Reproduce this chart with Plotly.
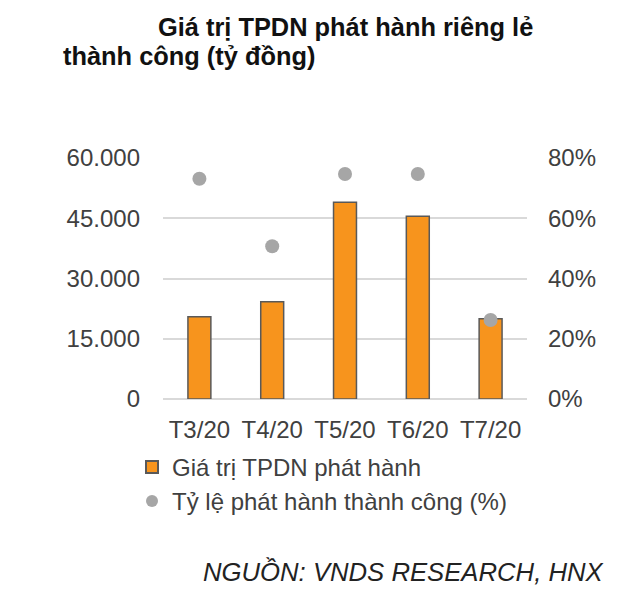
import plotly.graph_objects as go

categories = ["T3/20", "T4/20", "T5/20", "T6/20", "T7/20"]
issued_value = [20500, 24200, 49000, 45500, 20000]
success_rate = [73.1, 50.7, 74.7, 74.7, 26.2]
left_ticks = [0, 15000, 30000, 45000, 60000]
left_labels = ["0", "15.000", "30.000", "45.000", "60.000"]
right_ticks = [0, 20, 40, 60, 80]
right_labels = ["0%", "20%", "40%", "60%", "80%"]

FONT = "Arial, Liberation Sans, sans-serif"
TICK = dict(size=24, color="#404040", family=FONT)

fig = go.Figure()
fig.add_trace(go.Bar(
    x=categories, y=issued_value, name="Giá trị TPDN phát hành",
    marker=dict(color="#F7941D", line=dict(color="#595959", width=1.5)),
    yaxis="y",
))
fig.add_trace(go.Scatter(
    x=categories, y=success_rate, name="Tỷ lệ phát hành thành công (%)",
    mode="markers", marker=dict(color="#A6A6A6", size=14),
    yaxis="y2",
))

fig.update_layout(
    width=630, height=593,
    margin=dict(l=163, r=103, t=158, b=194),
    paper_bgcolor="white", plot_bgcolor="white",
    bargap=0.685,
    font=dict(family=FONT, size=24, color="#404040"),
    xaxis=dict(showgrid=False, showline=False, ticks="", ticklabelstandoff=14, tickfont=TICK),
    yaxis=dict(range=[0, 60000], tickmode="array", tickvals=left_ticks, ticktext=left_labels,
               showgrid=True, gridcolor="#D9D9D9", gridwidth=1.5,
               zeroline=True, zerolinecolor="#D9D9D9", zerolinewidth=1.5,
               ticks="", ticklabelstandoff=22, tickfont=TICK),
    yaxis2=dict(range=[0, 80], tickmode="array", tickvals=right_ticks, ticktext=right_labels,
                overlaying="y", side="right", showgrid=False, zeroline=False,
                ticks="", ticklabelstandoff=20, tickfont=TICK),
    showlegend=True,
    legend=dict(x=(132 - 163) / 364, y=-0.19, xanchor="left", yanchor="top",
                font=dict(size=24, color="#404040", family=FONT), bgcolor="rgba(0,0,0,0)",
                itemsizing="constant", tracegroupgap=0),
    annotations=[
        dict(text="<b>Giá trị TPDN phát hành riêng lẻ</b>", xref="paper", yref="paper",
             x=(156 - 163) / 364, y=(399 - 27) / 241, xanchor="left", yanchor="middle",
             showarrow=False, font=dict(size=25.4, color="#111111", family=FONT)),
        dict(text="<b>thành công (tỷ đồng)</b>", xref="paper", yref="paper",
             x=(61 - 163) / 364, y=(399 - 56) / 241, xanchor="left", yanchor="middle",
             showarrow=False, font=dict(size=25.4, color="#111111", family=FONT)),
        dict(text="<i>NGUỒN: VNDS RESEARCH, HNX</i>", xref="paper", yref="paper",
             x=(606 - 163) / 364, y=(399 - 571) / 241, xanchor="right", yanchor="middle",
             showarrow=False, font=dict(size=25.7, color="#222222", family=FONT)),
    ],
)

fig.write_html("out.html")
